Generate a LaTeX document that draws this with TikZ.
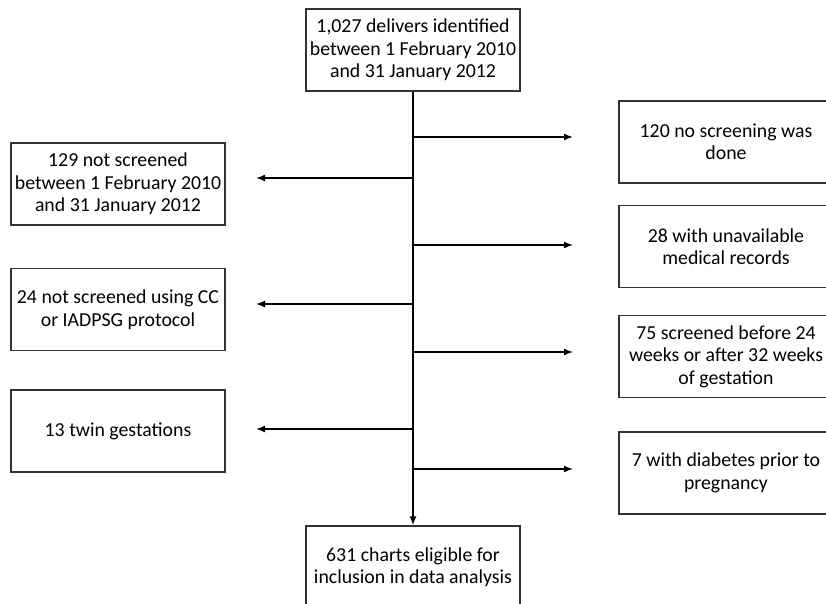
\documentclass[tikz,border=0pt]{standalone}
\usepackage{fontspec}
\setmainfont{Carlito}
\usetikzlibrary{arrows.meta}

\tikzset{
  box/.style={draw=black!80, line width=1.2pt, minimum width=214pt,
    minimum height=82pt, inner sep=0pt, align=center,
    font=\fontsize{19.8}{22.5}\selectfont},
  flow/.style={->, >={Latex[length=9pt,width=7pt]}, line width=1.6pt}
}

\begin{document}
\begin{tikzpicture}[x=1pt, y=-1pt]
	  \useasboundingbox (0, 0) rectangle (826, 604);
	  % main column
	  \node[box](start) at (413, 50) {1,027 delivers identified\\between 1 February 2010\\and 31 January 2012};
	  \node[box](final) at (413, 567) {631 charts eligible for\\inclusion in data analysis};
	  \draw[flow](start) -- (final);
	  % excluded on the left
	  \node[box](left1) at (118, 184) {129 not screened\\between 1 February 2010\\and 31 January 2012};
	  \node[box](left2) at (118, 309.5) {24 not screened using CC\\or IADPSG protocol};
	  \node[box](left3) at (118, 431) {13 twin gestations};
	  % excluded on the right
	  \node[box](right1) at (726, 142) {120 no screening was\\done};
	  \node[box](right2) at (726, 246.5) {28 with unavailable\\medical records};
	  \node[box](right3) at (726, 356.5) {75 screened before 24\\weeks or after 32 weeks\\of gestation};
	  \node[box](right4) at (726, 473) {7 with diabetes prior to\\pregnancy};
	  % branches off the main column
	  \foreach \y/\n in {178/1, 304/2, 429/3} {
	    \coordinate(lb\n) at (413, \y);
	    \coordinate(le\n) at (256, \y);
	    \draw[flow](lb\n) -- (le\n);
	  }
	  \foreach \y/\n in {137/1, 245/2, 352/3, 469/4} {
	    \coordinate(rb\n) at (413, \y);
	    \coordinate(re\n) at (573, \y);
	    \draw[flow](rb\n) -- (re\n);
	  }
	\end{tikzpicture}
\end{document}
